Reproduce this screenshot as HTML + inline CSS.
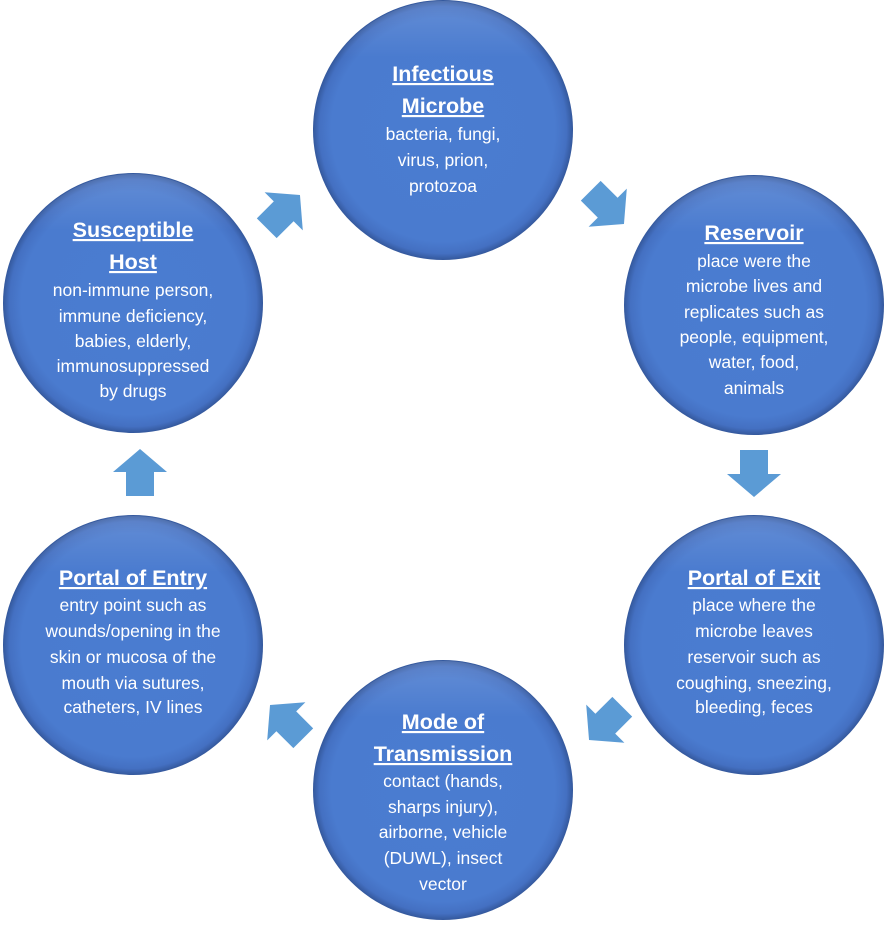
<!DOCTYPE html>
<html><head><style>body{margin:0;background:#fff}svg{display:block}</style></head><body>
<svg width="886" height="928" viewBox="0 0 886 928" xmlns="http://www.w3.org/2000/svg">
<defs>
<radialGradient id="g" cx="50%" cy="50%" r="50%">
<stop offset="0" stop-color="#4a7cd0"/>
<stop offset="0.86" stop-color="#4a7bcf"/>
<stop offset="0.95" stop-color="#4470c2"/>
<stop offset="1" stop-color="#34589c"/>
</radialGradient>
<linearGradient id="hl" x1="0" y1="0" x2="0" y2="1">
<stop offset="0" stop-color="#fff" stop-opacity="0.14"/>
<stop offset="0.22" stop-color="#fff" stop-opacity="0"/>
</linearGradient>
<g id="c"><circle r="130" fill="url(#g)"/><circle r="129" fill="url(#hl)"/></g>
<path id="a" d="M-14,-23 H14 V1 H27 L0,24 L-27,1 H-14 Z" fill="#5b9bd5"/>
</defs>
<use href="#c" x="443" y="130"/>
<use href="#c" x="754" y="305"/>
<use href="#c" x="754" y="645"/>
<use href="#c" x="443" y="790"/>
<use href="#c" x="133" y="645"/>
<use href="#c" x="133" y="303"/>
<use href="#a" transform="translate(754,473)"/>
<use href="#a" transform="translate(140,473) rotate(180)"/>
<use href="#a" transform="translate(283,212) rotate(-135)"/>
<use href="#a" transform="translate(607,207) rotate(-45)"/>
<use href="#a" transform="translate(606,723) rotate(45)"/>
<use href="#a" transform="translate(287,722) rotate(135)"/>
<g fill="#fff" font-family="Liberation Sans, sans-serif" text-anchor="middle">
<g font-weight="bold" font-size="21.5" text-decoration="underline">
<text x="443" y="81">Infectious</text><text x="443" y="113">Microbe</text>
<text x="754" y="240">Reservoir</text>
<text x="133" y="237">Susceptible</text><text x="133" y="269">Host</text>
<text x="754" y="585">Portal of Exit</text>
<text x="133" y="585">Portal of Entry</text>
<text x="443" y="729">Mode of</text><text x="443" y="761">Transmission</text>
</g>
<g font-size="17.5">
<text x="443" y="140">bacteria, fungi,</text><text x="443" y="166">virus, prion,</text><text x="443" y="192">protozoa</text>
<text x="754" y="267">place were the</text><text x="754" y="292">microbe lives and</text><text x="754" y="318">replicates such as</text><text x="754" y="343">people, equipment,</text><text x="754" y="368">water, food,</text><text x="754" y="394">animals</text>
<text x="133" y="296">non-immune person,</text><text x="133" y="322">immune deficiency,</text><text x="133" y="347">babies, elderly,</text><text x="133" y="372">immunosuppressed</text><text x="133" y="397">by drugs</text>
<text x="754" y="611">place where the</text><text x="754" y="637">microbe leaves</text><text x="754" y="663">reservoir  such as</text><text x="754" y="689">coughing, sneezing,</text><text x="754" y="713">bleeding, feces</text>
<text x="133" y="611">entry point such as</text><text x="133" y="637">wounds/opening in the</text><text x="133" y="663">skin or mucosa of the</text><text x="133" y="689">mouth via sutures,</text><text x="133" y="713">catheters, IV lines</text>
<text x="443" y="787">contact (hands,</text><text x="443" y="813">sharps injury),</text><text x="443" y="838">airborne, vehicle</text><text x="443" y="864">(DUWL), insect</text><text x="443" y="890">vector</text>
</g>
</g>
</svg>
</body></html>
